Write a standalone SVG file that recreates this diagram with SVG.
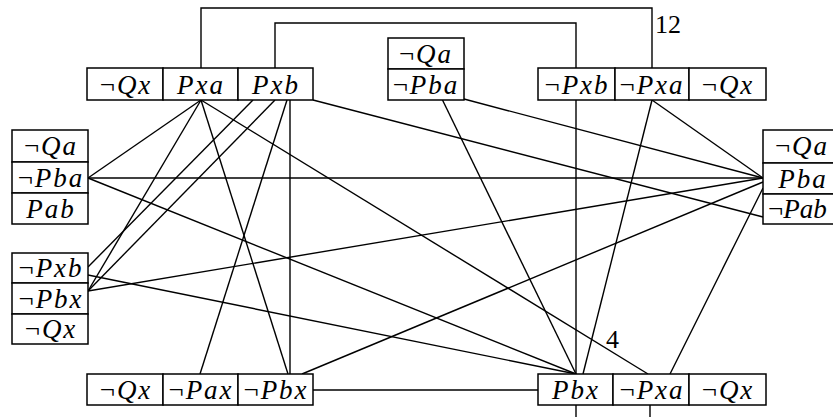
<svg xmlns="http://www.w3.org/2000/svg" width="833" height="417" viewBox="0 0 833 417">
<style>
rect{fill:#fff;stroke:#000;stroke-width:1.5}
text{font-family:"Liberation Serif","Times New Roman",serif;font-size:27px;font-style:italic;letter-spacing:2px;text-anchor:middle;fill:#000}
.n{font-style:normal}
.lbl{font-style:normal;letter-spacing:0;text-anchor:start;font-size:26px}
#links line,#links polyline{stroke:#000;stroke-width:1.4;fill:none}
</style>
<rect width="833" height="417" style="fill:#fff;stroke:none"/>
<g id="links">
<polyline points="201,68 201,8 652,8 652,68"/>
<polyline points="275,68 275,23 576,23 576,68"/>
<line x1="576" y1="100" x2="576" y2="374"/>
<line x1="576" y1="405" x2="576" y2="420"/>
<line x1="650" y1="405" x2="650" y2="420"/>
<line x1="201" y1="100" x2="88" y2="178"/>
<line x1="201" y1="100" x2="88" y2="291"/>
<line x1="201" y1="100" x2="288" y2="374"/>
<line x1="201" y1="100" x2="648" y2="374"/>
<line x1="253" y1="100" x2="88" y2="267"/>
<line x1="275" y1="100" x2="88" y2="291"/>
<line x1="290" y1="100" x2="290" y2="374"/>
<line x1="287" y1="100" x2="200" y2="374"/>
<line x1="313" y1="100" x2="763" y2="217"/>
<line x1="442" y1="99" x2="576" y2="374"/>
<line x1="464" y1="99" x2="763" y2="178"/>
<line x1="652" y1="100" x2="583" y2="374"/>
<line x1="652" y1="100" x2="763" y2="178"/>
<line x1="88" y1="178" x2="763" y2="178"/>
<line x1="88" y1="178" x2="576" y2="374"/>
<line x1="88" y1="275" x2="576" y2="374"/>
<line x1="88" y1="291" x2="763" y2="178"/>
<line x1="302" y1="374" x2="763" y2="182"/>
<line x1="313" y1="390" x2="538" y2="390"/>
<line x1="670" y1="374" x2="763" y2="188"/>
<text class="lbl" x="655" y="33">12</text>
<text class="lbl" x="606" y="348">4</text>
</g>
<g id="c1">
<rect x="87" y="68" width="76" height="32"/><rect x="163" y="68" width="75" height="32"/><rect x="238" y="68" width="75" height="32"/>
<text x="126" y="94"><tspan class="n">¬</tspan>Qx</text>
<text x="201" y="94">Pxa</text>
<text x="276" y="94">Pxb</text>
</g>
<g id="c2">
<rect x="388" y="38" width="76" height="31"/><rect x="388" y="69" width="76" height="31"/>
<text x="426" y="63"><tspan class="n">¬</tspan>Qa</text>
<text x="426" y="94"><tspan class="n">¬</tspan>Pba</text>
</g>
<g id="c3">
<rect x="538" y="68" width="77" height="32"/><rect x="615" y="68" width="74" height="32"/><rect x="689" y="68" width="77" height="32"/>
<text x="577" y="94"><tspan class="n">¬</tspan>Pxb</text>
<text x="652" y="94"><tspan class="n">¬</tspan>Pxa</text>
<text x="728" y="94"><tspan class="n">¬</tspan>Qx</text>
</g>
<g id="c4">
<rect x="12" y="130" width="76" height="32"/><rect x="12" y="162" width="76" height="31"/><rect x="12" y="193" width="76" height="31"/>
<text x="51" y="155"><tspan class="n">¬</tspan>Qa</text>
<text x="51" y="187"><tspan class="n">¬</tspan>Pba</text>
<text x="51" y="218">Pab</text>
</g>
<g id="c5">
<rect x="12" y="253" width="76" height="30"/><rect x="12" y="283" width="76" height="31"/><rect x="12" y="314" width="76" height="30"/>
<text x="51" y="277"><tspan class="n">¬</tspan>Pxb</text>
<text x="51" y="308"><tspan class="n">¬</tspan>Pbx</text>
<text x="51" y="338"><tspan class="n">¬</tspan>Qx</text>
</g>
<g id="c6">
<rect x="763" y="130" width="78" height="33"/><rect x="763" y="163" width="78" height="31"/><rect x="763" y="194" width="78" height="30"/>
<text x="802" y="155"><tspan class="n">¬</tspan>Qa</text>
<text x="803" y="188">Pba</text>
<text x="768" y="218" style="text-anchor:start;letter-spacing:0"><tspan class="n">¬</tspan>Pab</text>
</g>
<g id="c7">
<rect x="87" y="374" width="76" height="31"/><rect x="163" y="374" width="75" height="31"/><rect x="238" y="374" width="75" height="31"/>
<text x="126" y="399"><tspan class="n">¬</tspan>Qx</text>
<text x="201" y="399"><tspan class="n">¬</tspan>Pax</text>
<text x="276" y="399"><tspan class="n">¬</tspan>Pbx</text>
</g>
<g id="c8">
<rect x="538" y="374" width="75" height="31"/><rect x="613" y="374" width="76" height="31"/><rect x="689" y="374" width="77" height="31"/>
<text x="576" y="399">Pbx</text>
<text x="652" y="399"><tspan class="n">¬</tspan>Pxa</text>
<text x="728" y="399"><tspan class="n">¬</tspan>Qx</text>
</g>
</svg>
